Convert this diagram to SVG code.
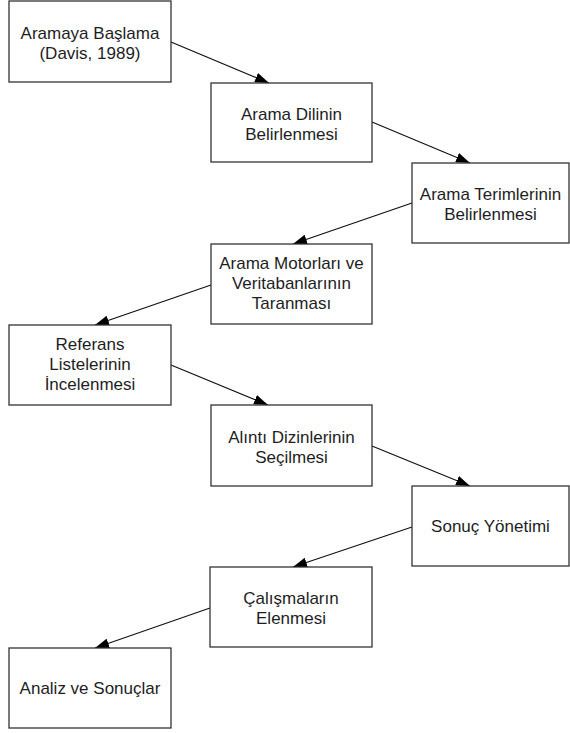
<svg xmlns="http://www.w3.org/2000/svg" width="570" height="733" viewBox="0 0 570 733">
  <style>
    .box { fill: #ffffff; stroke: #333333; stroke-width: 1.3; }
    .lbl { font-family: "Liberation Sans", Arial, sans-serif; font-size: 17px; fill: #1e1e1e; text-anchor: middle; }
    .edge { stroke: #111111; stroke-width: 1.2; fill: none; marker-end: url(#arrow); }
  </style>
  <defs>
    <marker id="arrow" viewBox="0 0 14 10" refX="14" refY="5" markerWidth="14" markerHeight="10" markerUnits="userSpaceOnUse" orient="auto">
      <path d="M0,0 L14,5 L0,10 Z" fill="#000000"/>
    </marker>
  </defs>
  <rect width="570" height="733" fill="#ffffff"/>

  <g id="connectors">
    <line class="edge" x1="171" y1="42" x2="269" y2="83"/>
    <line class="edge" x1="372" y1="122" x2="470" y2="163"/>
    <line class="edge" x1="412" y1="203" x2="293" y2="244"/>
    <line class="edge" x1="211" y1="285" x2="95" y2="325"/>
    <line class="edge" x1="171" y1="365" x2="268" y2="405"/>
    <line class="edge" x1="372" y1="446" x2="470" y2="486"/>
    <line class="edge" x1="412" y1="527" x2="293" y2="567"/>
    <line class="edge" x1="210" y1="608" x2="95" y2="648"/>
  </g>

  <g id="n1">
    <rect class="box" x="9" y="1" width="162" height="81"/>
    <text class="lbl" x="90" y="39">Aramaya Başlama</text>
    <text class="lbl" x="90" y="59">(Davis, 1989)</text>
  </g>
  <g id="n2">
    <rect class="box" x="211" y="83" width="161" height="79"/>
    <text class="lbl" x="291.5" y="120">Arama Dilinin</text>
    <text class="lbl" x="291.5" y="140">Belirlenmesi</text>
  </g>
  <g id="n3">
    <rect class="box" x="412" y="163" width="157" height="80"/>
    <text class="lbl" x="490.5" y="200">Arama Terimlerinin</text>
    <text class="lbl" x="490.5" y="220">Belirlenmesi</text>
  </g>
  <g id="n4">
    <rect class="box" x="211" y="244" width="161" height="80"/>
    <text class="lbl" x="291.5" y="269">Arama Motorları ve</text>
    <text class="lbl" x="291.5" y="289">Veritabanlarının</text>
    <text class="lbl" x="291.5" y="309">Taranması</text>
  </g>
  <g id="n5">
    <rect class="box" x="9" y="325" width="162" height="80"/>
    <text class="lbl" x="90" y="350">Referans</text>
    <text class="lbl" x="90" y="370">Listelerinin</text>
    <text class="lbl" x="90" y="390">İncelenmesi</text>
  </g>
  <g id="n6">
    <rect class="box" x="211" y="405" width="161" height="81"/>
    <text class="lbl" x="291.5" y="443">Alıntı Dizinlerinin</text>
    <text class="lbl" x="291.5" y="463">Seçilmesi</text>
  </g>
  <g id="n7">
    <rect class="box" x="412" y="486" width="157" height="80"/>
    <text class="lbl" x="490.5" y="532">Sonuç Yönetimi</text>
  </g>
  <g id="n8">
    <rect class="box" x="210" y="567" width="162" height="80"/>
    <text class="lbl" x="291" y="604">Çalışmaların</text>
    <text class="lbl" x="291" y="624">Elenmesi</text>
  </g>
  <g id="n9">
    <rect class="box" x="9" y="648" width="162" height="80"/>
    <text class="lbl" x="90" y="694">Analiz ve Sonuçlar</text>
  </g>
</svg>
